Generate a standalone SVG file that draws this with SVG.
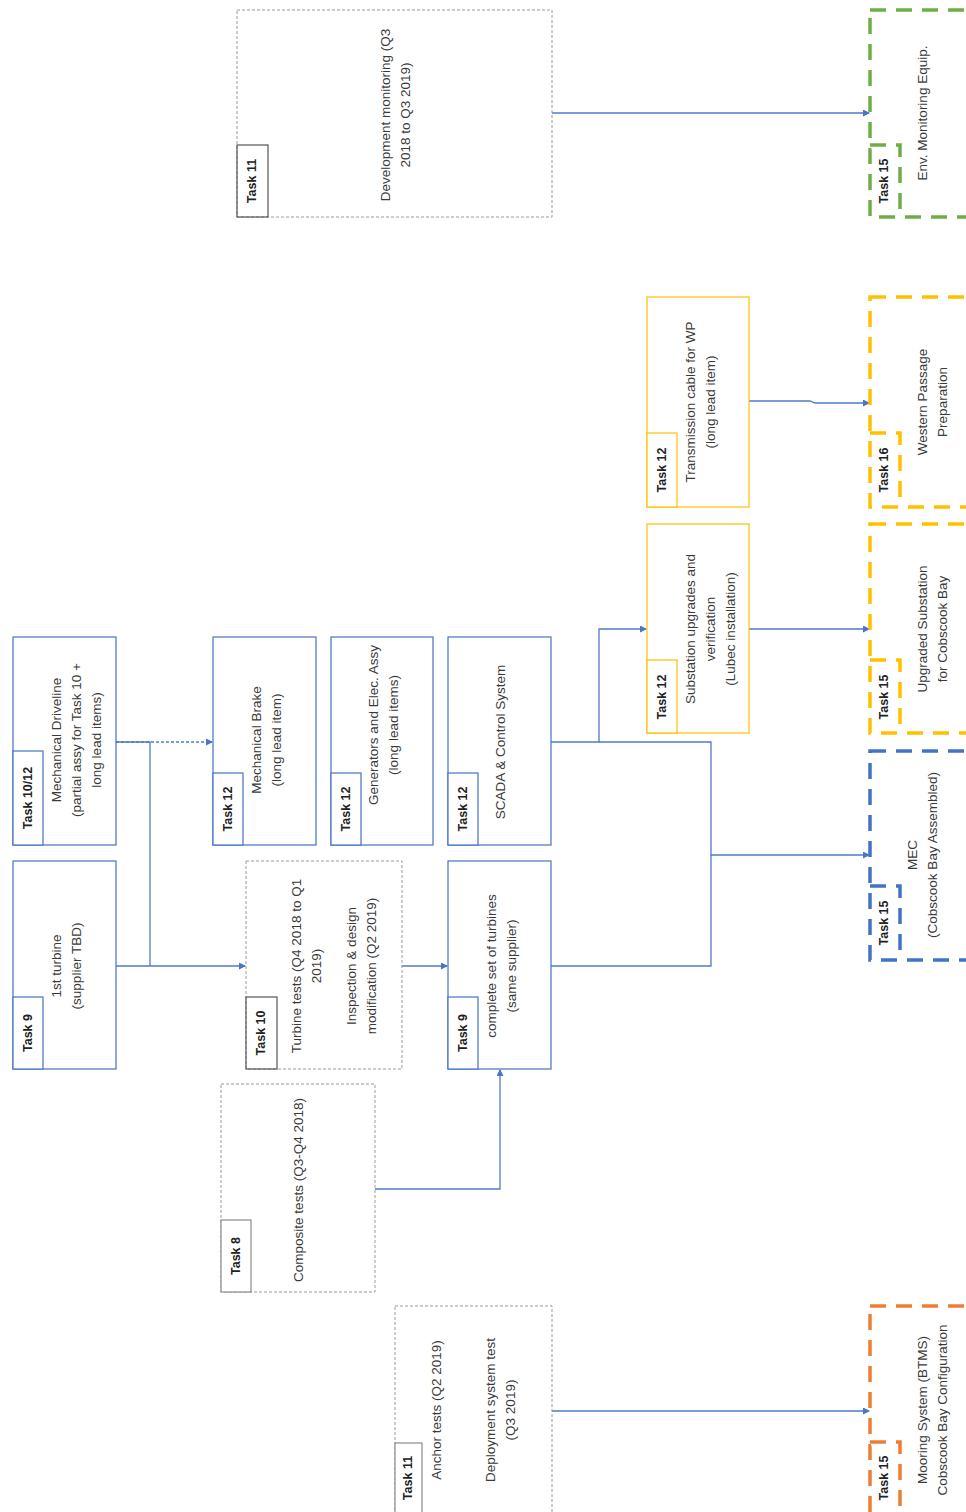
<svg xmlns="http://www.w3.org/2000/svg" width="966" height="1512" viewBox="0 0 966 1512">
<style>
text{font-family:"Liberation Sans",Arial,sans-serif;font-size:13.5px;fill:#3a3a3a;text-anchor:middle;dominant-baseline:central}
.tk{font-weight:bold;font-size:12.5px;fill:#222}
.blue{fill:#fff;stroke:#4472C4;stroke-width:1.2}
.yel{fill:#fff;stroke:#FFC000;stroke-width:1.2}
.gray{fill:#fff;stroke:#9a9a9a;stroke-width:1;stroke-dasharray:3 2}
.grays{fill:#fff;stroke:#8a8a8a;stroke-width:1.2}
.dk{fill:none;stroke:#555;stroke-width:1.2}
.dg{fill:#fff;stroke:#70AD47;stroke-width:3.5;stroke-dasharray:16 10}
.dy{fill:#fff;stroke:#FFC000;stroke-width:3.5;stroke-dasharray:16 10}
.db{fill:#fff;stroke:#4472C4;stroke-width:3.5;stroke-dasharray:16 10}
.do{fill:#fff;stroke:#ED7D31;stroke-width:3.5;stroke-dasharray:16 10}
.c{fill:none;stroke:#5079CC;stroke-width:1.3}
.cd{fill:none;stroke:#5079CC;stroke-width:1.3;stroke-dasharray:3 2}
</style>
<defs>
<marker id="ah" markerWidth="7" markerHeight="7" refX="6" refY="3.5" orient="auto" markerUnits="userSpaceOnUse">
<path d="M0,0 L7,3.5 L0,7 z" fill="#4A74C9"/>
</marker>
</defs>

<g id="connectors">
<path class="c" d="M552,113 H869" marker-end="url(#ah)"/>
<path class="c" d="M749,401 H810 L815,403 H869" marker-end="url(#ah)"/>
<path class="c" d="M749,629 H869" marker-end="url(#ah)"/>
<path class="c" d="M551,742 H599 V629 H646" marker-end="url(#ah)"/>
<path class="c" d="M599,742 H711 V855 H869" marker-end="url(#ah)"/>
<path class="c" d="M551,966 H711 V855"/>
<path class="cd" d="M116,742 H212" marker-end="url(#ah)"/>
<path class="c" d="M116,742 H150 V966"/>
<path class="c" d="M116,966 H245" marker-end="url(#ah)"/>
<path class="c" d="M402,966 H447" marker-end="url(#ah)"/>
<path class="c" d="M375,1189 H500 V1070" marker-end="url(#ah)"/>
<path class="c" d="M552,1411 H869" marker-end="url(#ah)"/>
</g>

<g id="task11-dev">
<rect class="gray" x="237" y="10" width="315" height="207"/>
<rect class="dk" x="237" y="145" width="31" height="72"/>
<text class="tk" transform="translate(252,181) rotate(-90)">Task 11</text>
<g transform="translate(395,115) rotate(-90)"><text y="-10">Development monitoring (Q3</text><text y="10">2018 to Q3 2019)</text></g>
</g>

<g id="task15-env">
<rect class="dg" x="870" y="10" width="130" height="207"/>
<path class="dg" d="M870,145 H900 V217" fill="none"/>
<text class="tk" transform="translate(884,181) rotate(-90)">Task 15</text>
<text transform="translate(922,113) rotate(-90)">Env. Monitoring Equip.</text>
</g>

<g id="task12-cable">
<rect class="yel" x="647" y="297" width="102" height="210"/>
<rect class="yel" x="647" y="433" width="30" height="74"/>
<text class="tk" transform="translate(662,470) rotate(-90)">Task 12</text>
<g transform="translate(700,402) rotate(-90)"><text y="-10">Transmission cable for WP</text><text y="10">(long lead item)</text></g>
</g>

<g id="task16-wp">
<rect class="dy" x="870" y="297" width="130" height="210"/>
<path class="dy" d="M870,433 H900 V507" fill="none"/>
<text class="tk" transform="translate(884,470) rotate(-90)">Task 16</text>
<g transform="translate(932,402) rotate(-90)"><text y="-10">Western Passage</text><text y="10">Preparation</text></g>
</g>

<g id="task12-substation">
<rect class="yel" x="647" y="524" width="102" height="209"/>
<rect class="yel" x="647" y="660" width="30" height="73"/>
<text class="tk" transform="translate(662,697) rotate(-90)">Task 12</text>
<g transform="translate(710,629) rotate(-90)"><text y="-20">Substation upgrades and</text><text y="0">verification</text><text y="20">(Lubec installation)</text></g>
</g>

<g id="task15-upgraded">
<rect class="dy" x="870" y="524" width="130" height="209"/>
<path class="dy" d="M870,660 H900 V733" fill="none"/>
<text class="tk" transform="translate(884,697) rotate(-90)">Task 15</text>
<g transform="translate(932,629) rotate(-90)"><text y="-10">Upgraded Substation</text><text y="10">for Cobscook Bay</text></g>
</g>

<g id="task15-mec">
<rect class="db" x="870" y="751" width="130" height="209"/>
<path class="db" d="M870,886 H900 V960" fill="none"/>
<text class="tk" transform="translate(884,923) rotate(-90)">Task 15</text>
<g transform="translate(922,855) rotate(-90)"><text y="-10">MEC</text><text y="10">(Cobscook Bay Assembled)</text></g>
</g>

<g id="task1012-driveline">
<rect class="blue" x="13" y="637" width="103" height="208"/>
<rect class="blue" x="13" y="751" width="30" height="94"/>
<text class="tk" transform="translate(28,798) rotate(-90)">Task 10/12</text>
<g transform="translate(76,740) rotate(-90)"><text y="-20">Mechanical Driveline</text><text y="0">(partial assy for Task 10 +</text><text y="20">long lead items)</text></g>
</g>

<g id="task12-brake">
<rect class="blue" x="213" y="637" width="103" height="208"/>
<rect class="blue" x="213" y="773" width="30" height="72"/>
<text class="tk" transform="translate(228,809) rotate(-90)">Task 12</text>
<g transform="translate(266,740) rotate(-90)"><text y="-10">Mechanical Brake</text><text y="10">(long lead item)</text></g>
</g>

<g id="task12-generators">
<rect class="blue" x="331" y="637" width="102" height="208"/>
<rect class="blue" x="331" y="773" width="30" height="72"/>
<text class="tk" transform="translate(346,809) rotate(-90)">Task 12</text>
<g transform="translate(383,725) rotate(-90)"><text y="-10">Generators and Elec. Assy</text><text y="10">(long lead items)</text></g>
</g>

<g id="task12-scada">
<rect class="blue" x="448" y="637" width="103" height="208"/>
<rect class="blue" x="448" y="773" width="30" height="72"/>
<text class="tk" transform="translate(463,809) rotate(-90)">Task 12</text>
<text transform="translate(500,742) rotate(-90)">SCADA &amp; Control System</text>
</g>

<g id="task9-first">
<rect class="blue" x="13" y="861" width="103" height="208"/>
<rect class="blue" x="13" y="997" width="30" height="72"/>
<text class="tk" transform="translate(28,1033) rotate(-90)">Task 9</text>
<g transform="translate(66,966) rotate(-90)"><text y="-10">1st turbine</text><text y="10">(supplier TBD)</text></g>
</g>

<g id="task10-tests">
<rect class="gray" x="246" y="861" width="156" height="208"/>
<rect class="dk" x="246" y="997" width="31" height="72"/>
<text class="tk" transform="translate(261,1033) rotate(-90)">Task 10</text>
<g transform="translate(334,966) rotate(-90)"><text y="-38">Turbine tests (Q4 2018 to Q1</text><text y="-18">2019)</text><text y="17">Inspection &amp; design</text><text y="37">modification (Q2 2019)</text></g>
</g>

<g id="task9-complete">
<rect class="blue" x="448" y="861" width="103" height="208"/>
<rect class="blue" x="448" y="997" width="30" height="72"/>
<text class="tk" transform="translate(463,1033) rotate(-90)">Task 9</text>
<g transform="translate(501,966) rotate(-90)"><text y="-10">complete set of turbines</text><text y="10">(same supplier)</text></g>
</g>

<g id="task8-composite">
<rect class="gray" x="221" y="1084" width="154" height="208"/>
<rect class="grays" x="221" y="1220" width="30" height="72"/>
<text class="tk" transform="translate(236,1256) rotate(-90)">Task 8</text>
<text transform="translate(298,1190) rotate(-90)">Composite tests (Q3-Q4 2018)</text>
</g>

<g id="task11-anchor">
<rect class="gray" x="395" y="1306" width="157" height="220"/>
<rect class="grays" x="395" y="1443" width="27" height="80"/>
<text class="tk" transform="translate(408,1478) rotate(-90)">Task 11</text>
<text transform="translate(436,1410) rotate(-90)">Anchor tests (Q2 2019)</text>
<g transform="translate(500,1410) rotate(-90)"><text y="-10">Deployment system test</text><text y="10">(Q3 2019)</text></g>
</g>

<g id="task15-mooring">
<rect class="do" x="870" y="1306" width="130" height="220"/>
<path class="do" d="M870,1442 H900 V1520" fill="none"/>
<text class="tk" transform="translate(884,1478) rotate(-90)">Task 15</text>
<g transform="translate(932,1410) rotate(-90)"><text y="-10">Mooring System (BTMS)</text><text y="10">Cobscook Bay Configuration</text></g>
</g>
</svg>
